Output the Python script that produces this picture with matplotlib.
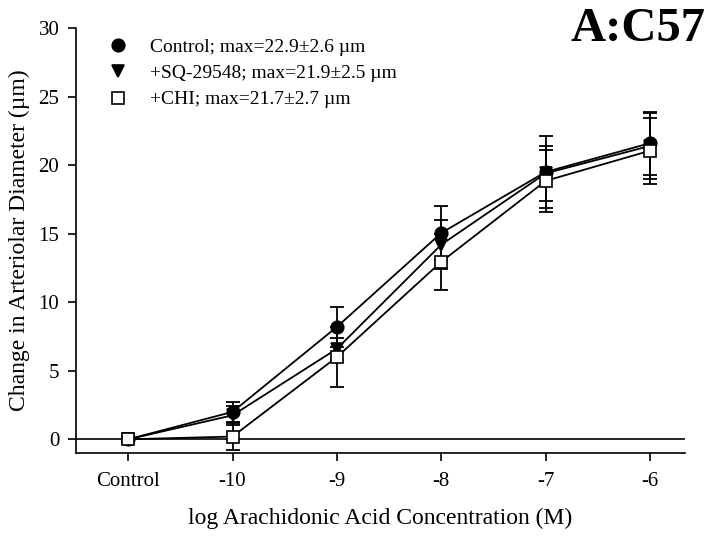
import matplotlib
matplotlib.use("Agg")
import matplotlib.pyplot as plt
from matplotlib.lines import Line2D

plt.rcParams['font.family'] = ['Liberation Serif', 'DejaVu Serif']

categories = ["Control", "-10", "-9", "-8", "-7", "-6"]
control_mean = [0.0, 2.0, 8.2, 15.05, 19.5, 21.6]
control_err = [0.2, 0.72, 1.45, 1.95, 2.65, 2.3]
sq_mean = [0.0, 1.75, 6.6, 14.2, 19.4, 21.4]
sq_err = [0.2, 0.7, 0.8, 1.8, 2.0, 2.4]
chi_mean = [0.0, 0.2, 6.0, 12.95, 18.85, 21.05]
chi_err = [0.2, 1.0, 2.2, 2.05, 2.25, 2.4]

labels = ["Control; max=22.9\u00b12.6 \u00b5m",
          "+SQ-29548; max=21.9\u00b12.5 \u00b5m",
          "+CHI; max=21.7\u00b12.7 \u00b5m"]
yticks = [0, 5, 10, 15, 20, 25, 30]

fig = plt.figure(figsize=(7.12, 5.37), dpi=100)
ax = fig.add_axes([76/712, 1-453/537, (685-76)/712, (453-28)/537])

x = list(range(len(categories)))
ax.axhline(0, color='black', lw=1.2, zorder=1)

series = [(control_mean, control_err, 'o', 'black', 'black'),
          (sq_mean, sq_err, 'v', 'black', 'black'),
          (chi_mean, chi_err, 's', 'white', 'black')]
for m, e, mk, fc, ec in series:
    ax.errorbar(x, m, yerr=e, fmt='none', ecolor='black', elinewidth=1.3,
                capsize=5, capthick=1.3, zorder=2)
for m, e, mk, fc, ec in series:
    ax.plot(x, m, color='black', lw=1.3, zorder=3)
for m, e, mk, fc, ec in series:
    ax.plot(x, m, linestyle='none', marker=mk, markersize=9 if mk != 's' else 8,
            markerfacecolor=fc, markeredgecolor=ec, markeredgewidth=1.2, zorder=4)

ax.set_xlim(-0.5, 5.335)
ax.set_ylim(-1.0, 30)
ax.set_xticks(x)
ax.set_xticklabels(categories)
ax.set_yticks(yticks)
ax.tick_params(axis='both', direction='out', length=6, width=1.2, labelsize=15, pad=6)
ax.tick_params(axis='x', pad=8)
ax.spines['top'].set_visible(False)
ax.spines['right'].set_visible(False)
ax.spines['left'].set_linewidth(1.2)
ax.spines['bottom'].set_linewidth(1.2)

ax.set_xlabel("log Arachidonic Acid Concentration (M)", fontsize=17, labelpad=12)
ax.set_ylabel("Change in Arteriolar Diameter (\u00b5m)", fontsize=17, labelpad=6)

handles = [Line2D([], [], linestyle='none', marker=mk,
                  markersize=9 if mk != 's' else 8,
                  markerfacecolor=fc, markeredgecolor=ec, markeredgewidth=1.2)
           for m, e, mk, fc, ec in series]
fig.legend(handles, labels, loc='upper left',
           bbox_to_anchor=(108/712, 1-38/537), frameon=False,
           fontsize=14, handlelength=1.0, handletextpad=1.15,
           labelspacing=0.45, borderpad=0, borderaxespad=0)

fig.text(706/712, 1-7/537, "A:C57", ha='right', va='top', fontsize=35, fontweight='bold')

fig.savefig("out.png", dpi=100)
